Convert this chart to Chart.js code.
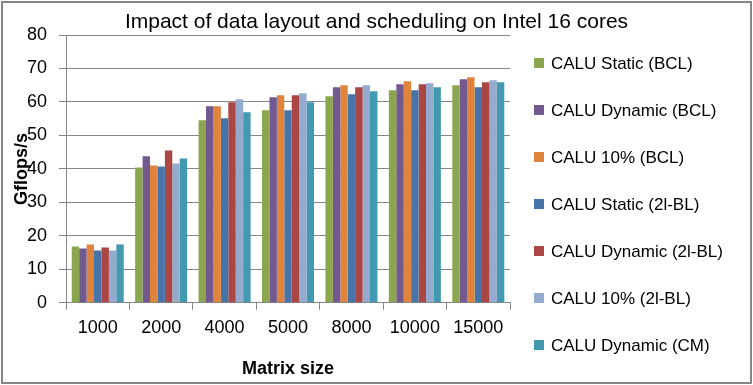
<!DOCTYPE html>
<html>
<head>
<meta charset="utf-8">
<script src="https://cdn.jsdelivr.net/npm/chart.js@4.4.0/dist/chart.umd.min.js"></script>
<style>
  body { margin: 0; background: #fff; }
  #wrap { width: 753px; height: 385px; }
</style>
</head>
<body>
<div id="wrap"><canvas id="chart" width="753" height="385"></canvas></div>
<script>
// Data
const matrixSizes = ['1000', '2000', '4000', '5000', '8000', '10000', '15000'];
const seriesNames = ['CALU Static (BCL)', 'CALU Dynamic (BCL)', 'CALU 10% (BCL)', 'CALU Static (2l-BL)', 'CALU Dynamic (2l-BL)', 'CALU 10% (2l-BL)', 'CALU Dynamic (CM)'];
const staticBCL = [16.8, 40.4, 54.5, 57.5, 61.7, 63.5, 65.0];
const dynamicBCL = [16.2, 43.8, 58.7, 61.4, 64.4, 65.3, 66.8];
const tenBCL = [17.4, 41.0, 58.7, 62.0, 65.0, 66.2, 67.4];
const static2l = [15.6, 40.7, 55.1, 57.5, 62.3, 63.5, 64.4];
const dynamic2l = [16.5, 45.5, 59.9, 62.0, 64.4, 65.3, 65.9];
const ten2l = [15.6, 41.6, 60.8, 62.6, 65.0, 65.6, 66.5];
const dynamicCM = [17.4, 43.1, 56.9, 59.9, 63.2, 64.4, 65.9];
const yTicks = [0, 10, 20, 30, 40, 50, 60, 70, 80];

const seriesValues = [staticBCL, dynamicBCL, tenBCL, static2l, dynamic2l, ten2l, dynamicCM];
const colors = ['#8aa64e', '#72598f', '#de843c', '#4673a8', '#aa4644', '#94aacf', '#4299b0'];

const font = "'Liberation Sans', Arial, sans-serif";
const gray = '#868686';
const chartTitle = 'Impact of data layout and scheduling on Intel 16 cores';
const yTitle = 'Gflops/s';

// frame, title, y title and legend drawn by hand (Excel-like placement)
const framePlugin = {
    id: 'frame',
    afterDraw(chart) {
        const ctx = chart.ctx;
        const area = chart.chartArea;
        ctx.save();
        ctx.strokeStyle = gray;
        ctx.lineWidth = 2;
        ctx.strokeRect(2, 2, chart.width - 4, chart.height - 4);

        ctx.fillStyle = '#000';
        ctx.textAlign = 'center';
        ctx.textBaseline = 'middle';
        ctx.font = '21px ' + font;
        ctx.fillText(chartTitle, chart.width / 2, 22);

        ctx.save();
        ctx.translate(22, (area.top + area.bottom) / 2);
        ctx.rotate(-Math.PI / 2);
        ctx.font = 'bold 18px ' + font;
        ctx.fillText(yTitle, 0, 0);
        ctx.restore();

        const left = area.right + 24;
        ctx.textAlign = 'left';
        ctx.font = '17px ' + font;
        chart.data.datasets.forEach((ds, i) => {
            const y = 63 + i * 47;
            ctx.fillStyle = ds.backgroundColor;
            ctx.fillRect(left, y - 5, 10, 10);
            ctx.fillStyle = '#000';
            ctx.fillText(ds.label, left + 17, y + 1);
        });
        ctx.restore();
    }
};

const ctx = document.getElementById('chart').getContext('2d');
new Chart(ctx, {
    type: 'bar',
    data: {
        labels: matrixSizes,
        datasets: seriesNames.map((name, i) => ({
            label: name,
            data: seriesValues[i],
            backgroundColor: colors[i],
            borderWidth: 0,
            categoryPercentage: 0.82,
            barPercentage: 1.0
        }))
    },
    options: {
        responsive: false,
        animation: false,
        layout: { padding: { left: 15, right: 243, top: 35, bottom: 5 } },
        plugins: {
            title: { display: false },
            legend: { display: false },
            tooltip: { enabled: false }
        },
        scales: {
            x: {
                grid: { drawOnChartArea: false, offset: true, color: gray, lineWidth: 1, tickLength: 7 },
                border: { color: gray, width: 1 },
                ticks: { color: '#000', font: { family: font, size: 18 }, padding: 7 },
                title: { display: true, text: 'Matrix size', color: '#000', font: { family: font, size: 18, weight: 'bold' }, padding: { top: 13, bottom: 0 } }
            },
            y: {
                min: 0,
                max: 80,
                afterBuildTicks(axis) { axis.ticks = yTicks.map(v => ({ value: v })); },
                grid: { color: gray, lineWidth: 1, tickLength: 7 },
                border: { color: gray, width: 1 },
                ticks: { color: '#000', font: { family: font, size: 18 }, padding: 12 }
            }
        }
    },
    plugins: [framePlugin]
});
</script>
</body>
</html>
